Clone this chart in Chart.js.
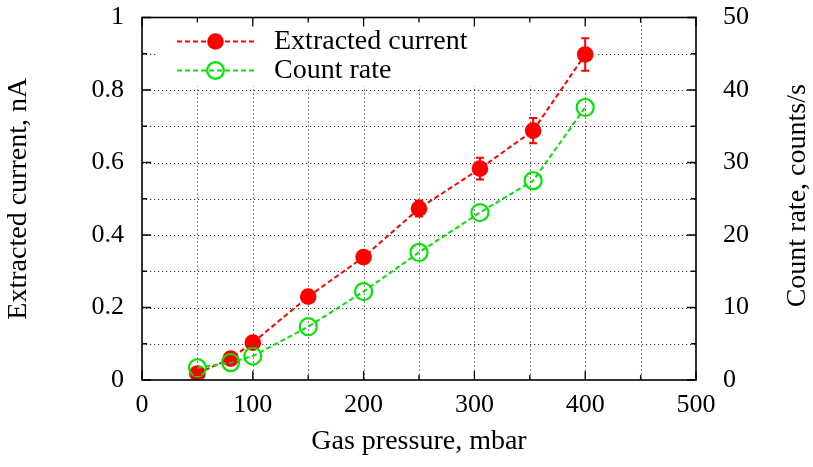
<!DOCTYPE html>
<html>
<head>
<meta charset="utf-8">
<script src="https://cdn.jsdelivr.net/npm/chart.js@4/dist/chart.umd.min.js"></script>
<style>
  html, body { margin: 0; padding: 0; background: #fff; }
  #chart { display: block; }
</style>
</head>
<body>
<canvas id="chart" width="813" height="467"></canvas>
<script>
// 測定データ
const pressure = [50, 80, 100, 150, 200, 250, 305, 353, 400];          // mbar
const current = [0.018, 0.059, 0.103, 0.23, 0.339, 0.473, 0.583, 0.688, 0.898]; // nA
const currentErr = [0.004, 0.006, 0.01, 0.014, 0.017, 0.022, 0.03, 0.035, 0.045];
const countRate = [1.7, 2.4, 3.3, 7.35, 12.2, 17.6, 23.1, 27.5, 37.6]; // counts/s

const FONT = "'Liberation Serif', 'Times New Roman', serif";
const RED = 'rgb(255, 0, 0)';
const GREEN = 'rgb(0, 230, 0)';

// 凡例の項目
const legendItems = [
    { label: 'Extracted current', color: RED, filled: true },
    { label: 'Count rate', color: GREEN, filled: false },
];

function toPoints(xs, ys) {
    return xs.map((x, i) => ({ x: x, y: ys[i] }));
}

// 軸の余白を固定する
function fixBox(size) {
    return function(scale) {
        if (scale.isHorizontal()) {
            scale.height = size;
        } else {
            scale.width = size;
        }
        scale.paddingTop = 0;
        scale.paddingBottom = 0;
        scale.paddingLeft = 0;
        scale.paddingRight = 0;
    };
}

// グリッド・目盛り・枠・凡例・誤差棒を描くプラグイン
const frame = {
    id: 'frame',
    beforeDatasetsDraw(chart) {
        const { ctx, chartArea: a, scales } = chart;
        const sx = scales.x, sy = scales.y;
        ctx.save();
        // 点線のグリッド
        ctx.strokeStyle = '#333';
        ctx.lineWidth = 1;
        ctx.setLineDash([1.2, 2.8]);
        ctx.beginPath();
        for (let v = 50; v < 500; v += 50) {
            const px = Math.round(sx.getPixelForValue(v)) + 0.5;
            ctx.moveTo(px, a.top);
            ctx.lineTo(px, a.bottom);
        }
        for (let v = 1; v < 10; v++) {
            const py = Math.round(sy.getPixelForValue(v / 10)) + 0.5;
            ctx.moveTo(a.left, py);
            ctx.lineTo(a.right, py);
        }
        ctx.stroke();
        ctx.setLineDash([]);
        // 凡例の背景
        ctx.fillStyle = '#fff';
        ctx.fillRect(a.left + 16, a.top + 1, 437, 68);
        // 内向きの目盛り
        ctx.strokeStyle = '#000';
        ctx.lineWidth = 1.3;
        ctx.beginPath();
        for (let v = 0; v <= 500; v += 50) {
            const px = sx.getPixelForValue(v);
            const len = v % 100 === 0 ? 9 : 5;
            ctx.moveTo(px, a.bottom); ctx.lineTo(px, a.bottom - len);
            ctx.moveTo(px, a.top); ctx.lineTo(px, a.top + len);
        }
        for (let v = 0; v <= 10; v++) {
            const py = sy.getPixelForValue(v / 10);
            const len = v % 2 === 0 ? 9 : 5;
            ctx.moveTo(a.left, py); ctx.lineTo(a.left + len, py);
            ctx.moveTo(a.right, py); ctx.lineTo(a.right - len, py);
        }
        ctx.stroke();
        ctx.restore();
    },
    afterDatasetsDraw(chart) {
        const { ctx, chartArea: a, scales } = chart;
        const sx = scales.x, sy = scales.y;
        ctx.save();
        // 誤差棒
        ctx.strokeStyle = RED;
        ctx.lineWidth = 2;
        ctx.beginPath();
        pressure.forEach((p, i) => {
            const px = sx.getPixelForValue(p);
            const y1 = sy.getPixelForValue(current[i] + currentErr[i]);
            const y2 = sy.getPixelForValue(current[i] - currentErr[i]);
            ctx.moveTo(px, y1); ctx.lineTo(px, y2);
            ctx.moveTo(px - 4, y1); ctx.lineTo(px + 4, y1);
            ctx.moveTo(px - 4, y2); ctx.lineTo(px + 4, y2);
        });
        ctx.stroke();
        // 枠
        ctx.strokeStyle = '#000';
        ctx.lineWidth = 1.6;
        ctx.strokeRect(a.left, a.top, a.right - a.left, a.bottom - a.top);
        // 凡例
        legendItems.forEach((item, i) => {
            const cy = a.top + 24 + i * 29;
            const x0 = a.left + 35, x1 = a.left + 112, cx = (x0 + x1) / 2;
            ctx.strokeStyle = item.color;
            ctx.lineWidth = 2;
            ctx.setLineDash([5, 3]);
            ctx.beginPath();
            ctx.moveTo(x0, cy); ctx.lineTo(x1, cy);
            ctx.stroke();
            ctx.setLineDash([]);
            ctx.beginPath();
            ctx.arc(cx, cy, 8.3, 0, Math.PI * 2);
            if (item.filled) {
                ctx.fillStyle = item.color;
                ctx.fill();
            } else {
                ctx.lineWidth = 2.2;
                ctx.stroke();
            }
            ctx.fillStyle = '#000';
            ctx.font = '28px ' + FONT;
            ctx.textAlign = 'left';
            ctx.textBaseline = 'alphabetic';
            ctx.fillText(item.label, a.left + 132, cy + 7);
        });
        // 右軸のタイトル
        ctx.translate(805, (a.top + a.bottom) / 2 - 3);
        ctx.rotate(-Math.PI / 2);
        ctx.font = '28px ' + FONT;
        ctx.textAlign = 'center';
        ctx.textBaseline = 'alphabetic';
        ctx.fillText('Count rate, counts/s', 0, 0);
        ctx.restore();
    }
};

const tickFont = { family: FONT, size: 26 };
const titleFont = { family: FONT, size: 28, lineHeight: 1 };
const plainNumber = v => String(Math.round(v * 10) / 10);

const chart = new Chart(document.getElementById('chart').getContext('2d'), {
    type: 'line',
    data: {
        datasets: [
            {
                label: 'Count rate',
                data: toPoints(pressure, countRate),
                yAxisID: 'y2',
                order: 0,
                borderColor: GREEN,
                borderWidth: 2,
                borderDash: [5, 3],
                pointRadius: 8.5,
                pointBorderWidth: 2.2,
                pointBorderColor: GREEN,
                pointBackgroundColor: 'rgba(0,0,0,0)',
                tension: 0,
            },
            {
                label: 'Extracted current',
                data: toPoints(pressure, current),
                yAxisID: 'y',
                order: 1,
                borderColor: RED,
                borderWidth: 2,
                borderDash: [5, 3],
                pointRadius: 8.3,
                pointBorderWidth: 0,
                pointBackgroundColor: RED,
                tension: 0,
            },
        ]
    },
    options: {
        responsive: false,
        animation: false,
        events: [],
        layout: { padding: { top: 17.5, left: 0, right: 0, bottom: 0 } },
        plugins: {
            legend: { display: false },
            tooltip: { enabled: false },
        },
        scales: {
            x: {
                type: 'linear',
                position: 'bottom',
                min: 0, max: 500,
                grid: { display: false, drawTicks: false },
                border: { display: false },
                ticks: { stepSize: 100, font: tickFont, color: '#000', padding: 10, maxRotation: 0 },
                title: { display: true, text: 'Gas pressure, mbar', font: titleFont, color: '#000', padding: { top: 0, bottom: 11 } },
                afterFit: fixBox(87),
            },
            y: {
                type: 'linear',
                position: 'left',
                min: 0, max: 1,
                grid: { display: false, drawTicks: false },
                border: { display: false },
                ticks: { stepSize: 0.2, font: tickFont, color: '#000', padding: 18, callback: plainNumber },
                title: { display: true, text: 'Extracted current, nA', font: titleFont, color: '#000', padding: { top: 5, bottom: 0 } },
                afterFit: fixBox(142),
            },
            y2: {
                type: 'linear',
                position: 'right',
                min: 0, max: 50,
                grid: { display: false, drawTicks: false },
                border: { display: false },
                ticks: { stepSize: 10, font: tickFont, color: '#000', padding: 27, callback: plainNumber },
                afterFit: fixBox(117),
            },
        }
    },
    plugins: [frame]
});
</script>
</body>
</html>
